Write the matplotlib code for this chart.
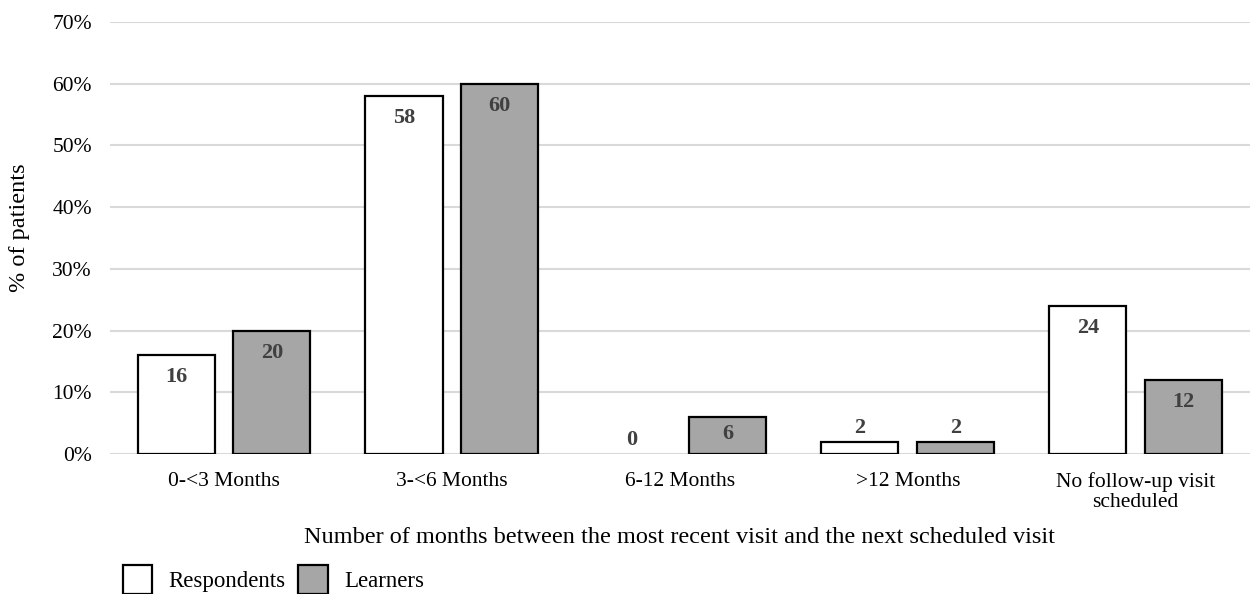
import numpy as np
import matplotlib.pyplot as plt
from matplotlib.patches import Patch

plt.rcParams['font.family'] = ['Liberation Serif', 'DejaVu Serif']

categories = ["0-<3 Months", "3-<6 Months", "6-12 Months", ">12 Months",
              "No follow-up visit\nscheduled"]
respondents = [16, 58, 0, 2, 24]
learners = [20, 60, 6, 2, 12]

x = np.arange(len(categories))
w = 0.338
off = 0.21

fig = plt.figure(figsize=(12.58, 5.94), dpi=100)
ax = fig.add_axes([0.0874, 0.2357, 0.906, 0.7273])

# zero-height bars get no outline
lw_r = [1.6 if v > 0 else 0 for v in respondents]
lw_l = [1.6 if v > 0 else 0 for v in learners]
ax.bar(x - off, respondents, w, color="white", edgecolor="black", linewidth=lw_r, zorder=3)
ax.bar(x + off, learners, w, color="#a6a6a6", edgecolor="black", linewidth=lw_l, zorder=3)

# value labels: inside the bar top, or above when the bar is too short
for xs, vals in ((x - off, respondents), (x + off, learners)):
    for xi, v in zip(xs, vals):
        if v >= 5:
            ax.text(xi, v - min(3.6, v * 0.45), str(v), ha="center", va="center",
                    fontsize=16, fontweight="bold", color="#404040", zorder=4)
        else:
            ax.text(xi, v + 0.6, str(v), ha="center", va="bottom",
                    fontsize=16, fontweight="bold", color="#404040", zorder=4)

ax.set_ylim(0, 70)
ax.set_xlim(-0.5, 4.5)
ax.set_yticks(np.arange(0, 71, 10))
ax.set_yticklabels([f"{t}%" for t in range(0, 71, 10)])
ax.set_xticks(x)
ax.set_xticklabels(categories, linespacing=1.05)
ax.tick_params(axis="both", length=0, labelsize=15.5, colors="black")
ax.tick_params(axis="x", pad=13)
ax.tick_params(axis="y", pad=13)
ax.grid(axis="y", color="#d9d9d9", linewidth=1.5, zorder=0)
for s in ax.spines.values():
    s.set_visible(False)

ax.set_ylabel("% of patients", fontsize=17.5)
ax.yaxis.set_label_coords(-0.07, 0.523)
ax.set_xlabel("Number of months between the most recent visit and the next scheduled visit",
              fontsize=17.5, labelpad=11)

handles = [Patch(facecolor="white", edgecolor="black", linewidth=1.6, label="Respondents"),
           Patch(facecolor="#a6a6a6", edgecolor="black", linewidth=1.6, label="Learners")]
fig.legend(handles=handles, loc="lower left", bbox_to_anchor=(0.081, -0.035), ncol=2,
           frameon=False, fontsize=16.5, handlelength=1.3, handleheight=1.6,
           columnspacing=0.55, handletextpad=0.7)

fig.savefig("out.png", dpi=100)
